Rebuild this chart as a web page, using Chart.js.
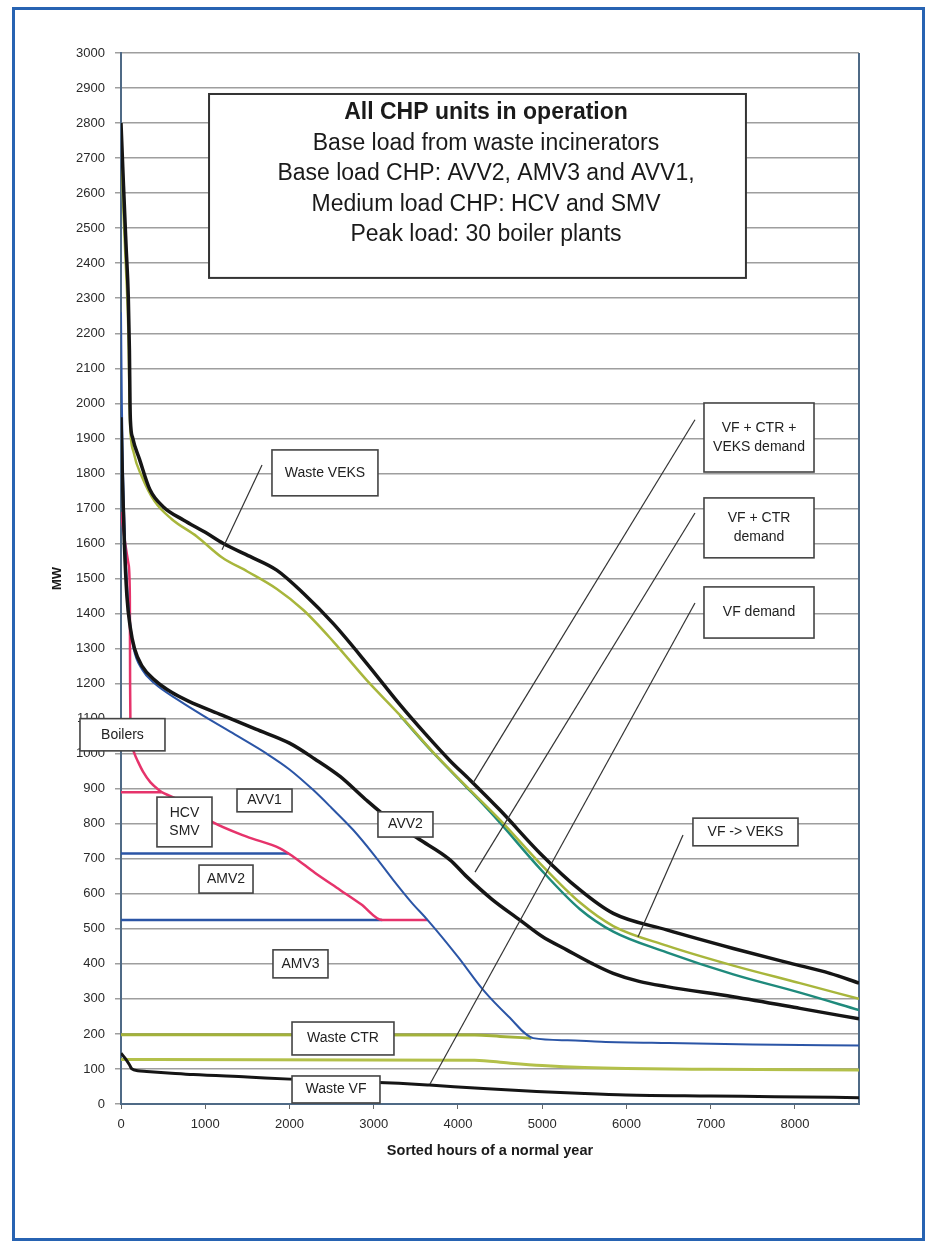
<!DOCTYPE html>
<html>
<head>
<meta charset="utf-8">
<title>All CHP units in operation</title>
<script src="https://cdn.jsdelivr.net/npm/chart.js@4.4.1/dist/chart.umd.min.js"></script>
<style>
  html, body { margin: 0; padding: 0; background: #fff; }
  #wrap { width: 935px; height: 1245px; }
</style>
</head>
<body>
<div id="wrap"><canvas id="load-chart" width="935" height="1245"></canvas></div>
<script>
// Load duration curves (hours sorted, MW)

// axis ticks
const hourTicks = [0, 1000, 2000, 3000, 4000, 5000, 6000, 7000, 8000];
const mwTicks = [0, 100, 200, 300, 400, 500, 600, 700, 800, 900, 1000, 1100, 1200, 1300, 1400, 1500,
    1600, 1700, 1800, 1900, 2000, 2100, 2200, 2300, 2400, 2500, 2600, 2700, 2800, 2900, 3000];

// VF + CTR + VEKS demand (top black)
const totalDemandHours = [0, 30, 60, 87, 100, 107, 112, 140, 220, 344, 500, 740, 1000, 1215, 1531, 1848, 2164, 2520, 2916, 3311, 3600, 3905, 4142, 4498, 4973, 5448, 5843, 6477, 7268, 7940, 8415, 8760];
const totalDemandMW = [2800, 2620, 2450, 2300, 2150, 2000, 1950, 1900, 1840, 1753, 1705, 1667, 1632, 1600, 1563, 1524, 1458, 1371, 1258, 1140, 1060, 980, 925, 839, 716, 611, 544, 497, 444, 402, 373, 345];

// VF -> VEKS (yellow-green)
const vfVeksHours = [0, 30, 60, 88, 100, 108, 150, 250, 400, 600, 900, 1200, 1500, 1850, 2164, 2520, 2916, 3311, 3700, 4103, 4498, 4973, 5448, 5843, 6477, 7268, 8059, 8760];
const vfVeksMW = [2750, 2540, 2380, 2200, 2020, 1940, 1860, 1790, 1720, 1670, 1620, 1560, 1520, 1470, 1410, 1320, 1210, 1110, 1005, 906, 811, 687, 575, 508, 452, 395, 345, 300];

// teal curve, only visible once it leaves the green one
const tealHours = [3311, 3700, 4103, 4300, 4498, 4973, 5448, 5843, 6477, 7268, 8059, 8760];
const tealMW = [1109, 1004, 904, 855, 803, 672, 556, 492, 433, 370, 318, 268];

// VF + CTR demand (lower black, AVV2 boundary)
const vfCtrHours = [0, 15, 40, 70, 110, 160, 250, 400, 600, 800, 1200, 1600, 2000, 2300, 2600, 2900, 3200, 3530, 3905, 4103, 4400, 4736, 5000, 5290, 5600, 5842, 6150, 6477, 7265, 8059, 8760];
const vfCtrMW = [1960, 1800, 1600, 1450, 1360, 1300, 1250, 1210, 1175, 1150, 1110, 1070, 1030, 985, 935, 870, 810, 757, 697, 649, 585, 525, 478, 440, 400, 373, 350, 335, 306, 273, 243];

// AVV1 boundary (blue)
const avv1Hours = [0, 10, 25, 50, 80, 110, 150, 250, 400, 700, 1000, 1350, 1729, 2000, 2283, 2500, 2757, 3000, 3230, 3450, 3640, 4000, 4301, 4600, 4894, 5300, 5700, 6500, 7500, 8760];
const avv1MW = [2260, 2000, 1800, 1600, 1450, 1370, 1300, 1240, 1200, 1150, 1105, 1055, 1000, 955, 896, 845, 782, 712, 640, 575, 525, 420, 325, 250, 188, 182, 178, 174, 170, 167];

// Boilers boundary (red, upper part)
const boilerHours = [0, 50, 90, 105, 108, 112, 125, 160, 200, 263, 350, 483];
const boilerMW = [1690, 1600, 1540, 1450, 1200, 1080, 1030, 1000, 978, 948, 918, 890];

// HCV / SMV boundary (red, lower part)
const hcvHours = [483, 700, 1076, 1492, 1887, 2045, 2300, 2600, 2850, 3100, 3640];
const hcvMW = [890, 865, 806, 763, 730, 706, 660, 611, 570, 525, 525];

// flat levels
const hcvLevelHours = [0, 483];
const hcvLevelMW = [890, 890];
const amv2LevelHours = [0, 1990];
const amv2LevelMW = [715, 715];
const amv3LevelHours = [0, 3100];
const amv3LevelMW = [525, 525];

// Waste CTR (green, upper) and the lower green level
const wasteCtrHours = [0, 4200, 4500, 4870];
const wasteCtrMW = [198, 197, 193, 188];
const wasteLowHours = [0, 4200, 4600, 5000, 5500, 6000, 7000, 8760];
const wasteLowMW = [127, 125, 117, 110, 104, 101, 99, 97];

// Waste VF (black, bottom)
const wasteVfHours = [0, 50, 100, 130, 200, 305, 600, 858, 1500, 2006, 2800, 3300, 3660, 4300, 4934, 5500, 5994, 7000, 7760, 8760];
const wasteVfMW = [145, 130, 112, 100, 95, 93, 88, 84, 77, 71, 64, 59, 54, 44, 36, 30, 26, 23, 21, 18];

const FONT = 'Arial, "Liberation Sans", Helvetica, sans-serif';

function pts(hours, mw) {
    return hours.map((h, i) => ({ x: h, y: mw[i] }));
}

function curve(hours, mw, color, width, order) {
    return {
        data: pts(hours, mw),
        borderColor: color,
        borderWidth: width,
        pointRadius: 0,
        fill: false,
        cubicInterpolationMode: 'monotone',
        order: order
    };
}

function level(hours, mw, color, width, order) {
    return {
        data: pts(hours, mw),
        borderColor: color,
        borderWidth: width,
        pointRadius: 0,
        fill: false,
        tension: 0,
        order: order
    };
}

// text boxes, given in chart units: [left h, top MW, right h, bottom MW]
const labelBoxes = [
    { text: ['Waste VEKS'], box: [1792, 1867, 3050, 1736] },
    { text: ['Boilers'], box: [-487, 1100, 522, 1008] },
    { text: ['AVV1'], box: [1377, 899, 2030, 834] },
    { text: ['HCV', 'SMV'], box: [427, 876, 1080, 734] },
    { text: ['AMV2'], box: [926, 682, 1567, 602] },
    { text: ['AMV3'], box: [1804, 440, 2457, 360] },
    { text: ['AVV2'], box: [3050, 834, 3703, 762] },
    { text: ['Waste CTR'], box: [2030, 234, 3240, 140] },
    { text: ['Waste VF'], box: [2030, 80, 3074, 3] },
    { text: ['VF -> VEKS'], box: [6789, 816, 8036, 737] },
    { text: ['VF + CTR +', 'VEKS demand'], box: [6920, 2001, 8226, 1804] },
    { text: ['VF + CTR', 'demand'], box: [6920, 1730, 8226, 1559] },
    { text: ['VF demand'], box: [6920, 1476, 8226, 1330] }
];

// leader lines: [h1, MW1, h2, MW2]
const leaders = [
    [1674, 1824, 1199, 1582],
    [6813, 1953, 4178, 916],
    [6813, 1687, 4202, 662],
    [6813, 1430, 3668, 57],
    [6671, 768, 6136, 477]
];

const titleBox = [1045, 2883, 7418, 2358];
const titleLines = [
    'All CHP units in operation',
    'Base load from waste incinerators',
    'Base load CHP: AVV2, AMV3 and AVV1,',
    'Medium load CHP: HCV and SMV',
    'Peak load: 30 boiler plants'
];

const annotationPlugin = {
    id: 'annotations',
    beforeDraw(chart) {
        const ctx = chart.ctx;
        ctx.save();
        ctx.fillStyle = '#ffffff';
        ctx.fillRect(0, 0, chart.width, chart.height);
        ctx.strokeStyle = '#2763b2';
        ctx.lineWidth = 3;
        ctx.strokeRect(13.5, 8.5, 910, 1231);
        ctx.restore();
    },
    beforeDatasetsDraw(chart) {
        const ctx = chart.ctx;
        const a = chart.chartArea;
        ctx.save();
        ctx.strokeStyle = '#4f6a86';
        ctx.lineWidth = 2;
        ctx.beginPath();
        ctx.moveTo(a.right, a.top);
        ctx.lineTo(a.right, a.bottom);
        ctx.stroke();
        ctx.restore();
    },
    afterDraw(chart) {
        const ctx = chart.ctx;
        const xs = chart.scales.x;
        const ys = chart.scales.y;
        const X = v => xs.getPixelForValue(v);
        const Y = v => ys.getPixelForValue(v);
        ctx.save();

        // leader lines
        ctx.strokeStyle = '#333';
        ctx.lineWidth = 1.2;
        leaders.forEach(l => {
            ctx.beginPath();
            ctx.moveTo(X(l[0]), Y(l[1]));
            ctx.lineTo(X(l[2]), Y(l[3]));
            ctx.stroke();
        });

        // small label boxes
        ctx.textAlign = 'center';
        ctx.textBaseline = 'middle';
        labelBoxes.forEach(b => {
            const x1 = X(b.box[0]), y1 = Y(b.box[1]);
            const x2 = X(b.box[2]), y2 = Y(b.box[3]);
            ctx.fillStyle = '#fff';
            ctx.fillRect(x1, y1, x2 - x1, y2 - y1);
            ctx.strokeStyle = '#444';
            ctx.lineWidth = 1.6;
            ctx.strokeRect(x1, y1, x2 - x1, y2 - y1);
            ctx.fillStyle = '#222';
            ctx.font = '14px ' + FONT;
            const cx = (x1 + x2) / 2;
            const cy = (y1 + y2) / 2;
            const lh = 18.5;
            b.text.forEach((t, i) => {
                ctx.fillText(t, cx, cy + (i - (b.text.length - 1) / 2) * lh);
            });
        });

        // heading box
        const tx1 = X(titleBox[0]), ty1 = Y(titleBox[1]);
        const tx2 = X(titleBox[2]), ty2 = Y(titleBox[3]);
        ctx.fillStyle = '#fff';
        ctx.fillRect(tx1, ty1, tx2 - tx1, ty2 - ty1);
        ctx.strokeStyle = '#333';
        ctx.lineWidth = 2;
        ctx.strokeRect(tx1, ty1, tx2 - tx1, ty2 - ty1);
        ctx.fillStyle = '#1a1a1a';
        titleLines.forEach((t, i) => {
            ctx.font = (i === 0 ? 'bold ' : '') + '23px ' + FONT;
            ctx.fillText(t, 486, ty1 + 19 + i * 30.5);
        });

        ctx.restore();
    }
};

const ctx = document.getElementById('load-chart').getContext('2d');
const loadChart = new Chart(ctx, {
    type: 'line',
    data: {
        datasets: [
            curve(totalDemandHours, totalDemandMW, '#151515', 3.5, 1),
            curve(vfCtrHours, vfCtrMW, '#151515', 3.5, 1),
            curve(wasteVfHours, wasteVfMW, '#151515', 3, 1),
            curve(vfVeksHours, vfVeksMW, '#a8b63c', 2.5, 3),
            curve(tealHours, tealMW, '#1f8a7c', 2.5, 4),
            curve(avv1Hours, avv1MW, '#2b55a6', 2, 2),
            curve(boilerHours, boilerMW, '#e6336b', 2.5, 2),
            curve(hcvHours, hcvMW, '#e6336b', 2.5, 2),
            level(hcvLevelHours, hcvLevelMW, '#e6336b', 2.5, 2),
            level(amv2LevelHours, amv2LevelMW, '#2b55a6', 2.5, 3),
            level(amv3LevelHours, amv3LevelMW, '#2b55a6', 2.5, 3),
            curve(wasteCtrHours, wasteCtrMW, '#a3b23a', 3, 3),
            curve(wasteLowHours, wasteLowMW, '#b3c04a', 3, 3)
        ]
    },
    options: {
        responsive: false,
        animation: false,
        devicePixelRatio: 1,
        layout: {
            padding: { left: 0, top: 53, right: 76, bottom: 81 }
        },
        plugins: {
            legend: { display: false },
            tooltip: { enabled: false }
        },
        scales: {
            x: {
                type: 'linear',
                min: 0,
                max: 8760,
                border: { display: true, color: '#4f6a86', width: 2 },
                grid: { drawOnChartArea: false, drawTicks: true, tickLength: 5, color: '#666' },
                afterBuildTicks(scale) { scale.ticks = hourTicks.map(v => ({ value: v })); },
                ticks: {
                    autoSkip: false,
                    maxRotation: 0,
                    padding: 8,
                    color: '#2a2a2a',
                    font: { family: FONT, size: 13 },
                    callback: v => String(v)
                },
                title: {
                    display: true,
                    text: 'Sorted hours of a normal year',
                    color: '#1a1a1a',
                    font: { family: FONT, size: 14.5, weight: 'bold' },
                    padding: { top: 0, bottom: 4 }
                },
                afterFit(scale) { scale.height = 60; }
            },
            y: {
                min: 0,
                max: 3000,
                border: { display: true, color: '#4f6a86', width: 2 },
                grid: { color: '#9e9e9e', lineWidth: 1.5, tickLength: 6 },
                afterBuildTicks(scale) { scale.ticks = mwTicks.map(v => ({ value: v })); },
                ticks: {
                    autoSkip: false,
                    padding: 10,
                    color: '#2a2a2a',
                    font: { family: FONT, size: 13 },
                    callback: v => String(v)
                },
                title: {
                    display: true,
                    text: 'MW',
                    color: '#1a1a1a',
                    font: { family: FONT, size: 13, weight: 'bold' },
                    padding: { top: 50, bottom: 0 }
                },
                afterFit(scale) { scale.width = 121; }
            }
        }
    },
    plugins: [annotationPlugin]
});
</script>
</body>
</html>
